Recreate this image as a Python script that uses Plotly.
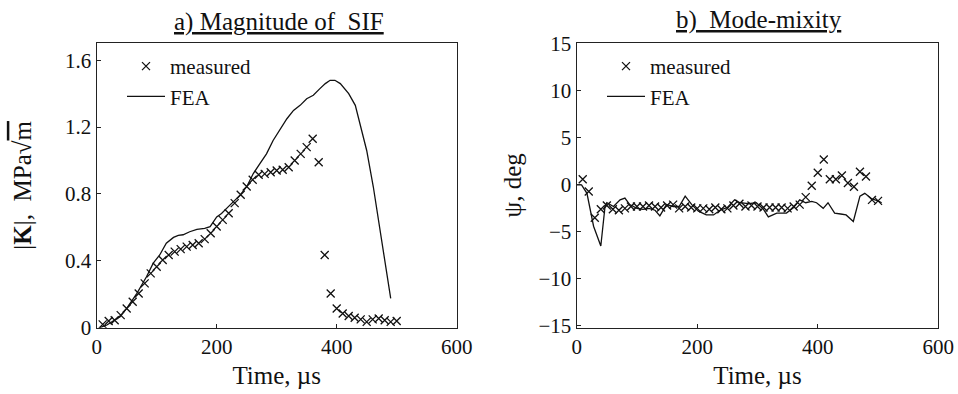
import plotly.graph_objects as go

# ---------- data ----------
t_meas = [10, 20, 30, 40, 50, 60, 70, 80, 90, 100, 110, 120, 130, 140, 150, 160, 170, 180, 190, 200,
          210, 220, 230, 240, 250, 260, 270, 280, 290, 300, 310, 320, 330, 340, 350, 360, 370, 380, 390, 400,
          410, 420, 430, 440, 450, 460, 470, 480, 490, 500]

k_meas = [0.02, 0.04, 0.045, 0.075, 0.115, 0.155, 0.205, 0.265, 0.325, 0.365, 0.405, 0.435, 0.455, 0.47,
          0.485, 0.495, 0.505, 0.53, 0.565, 0.605, 0.645, 0.685, 0.745, 0.795, 0.845, 0.885, 0.915, 0.92,
          0.93, 0.94, 0.945, 0.96, 1.0, 1.04, 1.08, 1.13, 0.99, 0.435, 0.205, 0.115, 0.085, 0.07, 0.06, 0.05,
          0.035, 0.05, 0.055, 0.045, 0.035, 0.04]

t_fea_a = [5, 17, 39, 50, 67, 83, 94, 105, 116, 128, 136, 144, 155, 167, 180, 189, 200, 208, 222, 239,
           250, 261, 272, 283, 294, 306, 317, 328, 339, 350, 361, 372, 381, 389, 397, 406, 420, 431, 439,
           450, 461, 470, 478, 485, 490]
k_fea = [0, 0.016, 0.066, 0.115, 0.205, 0.305, 0.385, 0.435, 0.505, 0.54, 0.552, 0.556, 0.574, 0.588,
         0.594, 0.604, 0.663, 0.683, 0.733, 0.793, 0.843, 0.922, 0.982, 1.04, 1.12, 1.19, 1.25, 1.30, 1.33,
         1.37, 1.39, 1.43, 1.46, 1.48, 1.48, 1.46, 1.40, 1.33, 1.22, 1.06, 0.843, 0.643, 0.444, 0.285, 0.175]

psi_meas = [0.6, -0.7, -3.5, -2.6, -2.2, -2.6, -2.7, -2.5, -2.3, -2.3, -2.3, -2.2, -2.3, -2.4, -2.2, -2.1,
            -2.5, -2.3, -2.4, -2.5, -2.5, -2.6, -2.4, -2.6, -2.5, -2.2, -2.0, -2.3, -2.2, -2.3, -2.4, -2.4,
            -2.4, -2.4, -2.5, -2.3, -2.1, -1.3, -0.1, 1.3, 2.7, 0.6, 0.6, 1.0, 0.2, -0.2, 1.4, 0.9, -1.6, -1.7]

t_fea_b = [0, 8, 17, 28, 40, 47, 50, 61, 72, 80, 88, 100, 110, 120, 130, 138, 149, 160, 170, 180, 191,
           202, 215, 227, 238, 250, 262, 271, 285, 298, 310, 318, 332, 348, 360, 370, 380, 390, 398, 409,
           417, 428, 438, 447, 459, 470, 478, 490, 500, 506]
psi_fea = [0, 0, -0.9, -4.4, -6.5, -2.3, -1.9, -2.3, -1.6, -1.4, -2.1, -2.5, -2.6, -2.5, -2.7, -3.3, -2.1,
           -2.3, -2.3, -1.2, -2.1, -2.8, -3.2, -3.2, -2.7, -2.4, -1.6, -1.9, -2.0, -1.9, -2.6, -3.4, -3.0,
           -3.0, -2.4, -1.6, -1.9, -1.75, -1.9, -2.5, -1.9, -3.0, -3.1, -3.2, -3.9, -1.2, -0.9, -1.5, -1.7, -1.9]

x_ticks = [0, 200, 400, 600]
k_ticks = [0, 0.4, 0.8, 1.2, 1.6]
k_tick_labels = ["0", "0.4", "0.8", "1.2", "1.6"]
psi_ticks = [-15, -10, -5, 0, 5, 10, 15]

# ---------- style ----------
FONT = "Liberation Serif"
W, H = 958, 394
BLACK = "#111"

def px_x(p):
    return p / W

def px_y(p):
    return 1 - p / H

marker_style = dict(symbol="x-thin", size=8, line=dict(width=1.3, color=BLACK), color=BLACK)
line_style = dict(color=BLACK, width=1.3)

fig = go.Figure()

fig.add_trace(go.Scatter(x=t_meas, y=k_meas, mode="markers", name="measured", marker=marker_style,
                         xaxis="x", yaxis="y", legend="legend"))
fig.add_trace(go.Scatter(x=t_fea_a, y=k_fea, mode="lines", name="FEA", line=line_style,
                         xaxis="x", yaxis="y", legend="legend"))
fig.add_trace(go.Scatter(x=t_meas, y=psi_meas, mode="markers", name="measured", marker=marker_style,
                         xaxis="x2", yaxis="y2", legend="legend2"))
fig.add_trace(go.Scatter(x=t_fea_b, y=psi_fea, mode="lines", name="FEA", line=line_style,
                         xaxis="x2", yaxis="y2", legend="legend2"))

axis_common = dict(showline=True, linecolor="#222", linewidth=1.3, mirror=True, ticks="inside",
                   ticklen=4, tickwidth=1, tickcolor="#222", showgrid=False, zeroline=False,
                   automargin=False,
                   tickfont=dict(family=FONT, size=21, color=BLACK))

ydom = [px_y(327.7), px_y(43)]
title_font = dict(family=FONT, size=25, color=BLACK)

fig.update_layout(
    width=W, height=H, margin=dict(l=0, r=0, t=0, b=0, autoexpand=False),
    paper_bgcolor="white", plot_bgcolor="white",
    font=dict(family=FONT, color=BLACK),
    xaxis=dict(domain=[px_x(96.7), px_x(456.7)], range=[0, 600], tickvals=x_ticks, anchor="y",
               title=dict(text="Time, µs", font=title_font, standoff=8), **axis_common),
    yaxis=dict(domain=ydom, range=[0, 1.703], tickvals=k_ticks, ticktext=k_tick_labels, anchor="x",
               title=dict(text="|<b>K</b>|,  MPa√<span style=\"text-decoration:overline\">m</span>",
                          font=title_font, standoff=26), **axis_common),
    xaxis2=dict(domain=[px_x(576.7), px_x(938.3)], range=[0, 600], tickvals=x_ticks, anchor="y2",
                title=dict(text="Time, µs", font=title_font, standoff=8), **axis_common),
    yaxis2=dict(domain=ydom, range=[-15.2, 15.1], tickvals=psi_ticks, anchor="x2",
                title=dict(text="ψ, deg", font=title_font, standoff=9), **axis_common),
    legend=dict(x=px_x(122), y=px_y(46), xanchor="left", yanchor="top", bgcolor="rgba(0,0,0,0)",
                font=dict(family=FONT, size=21, color=BLACK), tracegroupgap=0, itemwidth=38),
    legend2=dict(x=px_x(602), y=px_y(46), xanchor="left", yanchor="top", bgcolor="rgba(0,0,0,0)",
                 font=dict(family=FONT, size=21, color=BLACK), tracegroupgap=0, itemwidth=38),
    annotations=[
        dict(text="<u>a) Magnitude of  SIF</u>", x=px_x(279), y=px_y(22), xref="paper", yref="paper",
             showarrow=False, xanchor="center", yanchor="middle", font=title_font),
        dict(text="<u>b)  Mode-mixity</u>", x=px_x(759), y=px_y(20), xref="paper", yref="paper",
             showarrow=False, xanchor="center", yanchor="middle", font=title_font),
    ],
)

fig.write_html("out.html")
